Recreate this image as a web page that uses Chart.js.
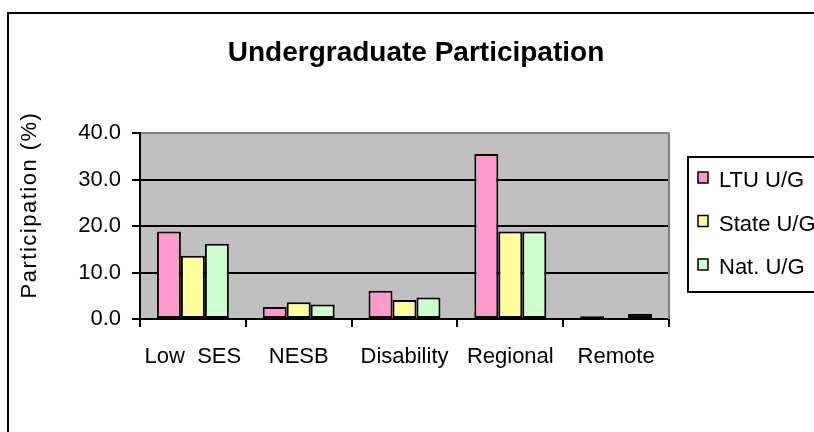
<!DOCTYPE html>
<html>
<head>
<meta charset="utf-8">
<script src="https://cdn.jsdelivr.net/npm/chart.js@4/dist/chart.umd.min.js"></script>
<style>
  html, body { margin: 0; padding: 0; background: #fff; }
  #wrap { width: 814px; height: 432px; }
</style>
</head>
<body>
<div id="wrap"><canvas id="bar_chart" width="814" height="432"></canvas></div>
<script>
// dados
var categorias = ['Low  SES', 'NESB', 'Disability', 'Regional', 'Remote'];
var ltuUG = [18.8, 2.6, 6.1, 35.5, 0.6];
var stateUG = [13.6, 3.6, 4.1, 18.8, 0];
var natUG = [16.2, 3.1, 4.6, 18.8, 1.1];
var yTicks = [0, 10, 20, 30, 40];

var fonte = '"Liberation Sans", Arial, sans-serif';
Chart.defaults.font.family = fonte;
Chart.defaults.color = '#000';

// fundo, moldura, título e legenda estilo Excel
var estiloExcel = {
    id: 'estiloExcel',
    beforeDraw: function (chart) {
        var ctx = chart.ctx, a = chart.chartArea;
        ctx.save();
        ctx.fillStyle = '#fff';
        ctx.fillRect(0, 0, chart.width, chart.height);
        ctx.strokeStyle = '#000';
        ctx.lineWidth = 2;
        ctx.strokeRect(8, 13, 840, 460);
        ctx.fillStyle = '#C0C0C0';
        ctx.fillRect(a.left, a.top, a.right - a.left, a.bottom - a.top);
        ctx.restore();
    },
    beforeDatasetsDraw: function (chart) {
        var ctx = chart.ctx, a = chart.chartArea;
        ctx.save();
        ctx.strokeStyle = '#808080';
        ctx.lineWidth = 2;
        ctx.beginPath();
        ctx.moveTo(a.right, a.top);
        ctx.lineTo(a.right, a.bottom);
        ctx.stroke();
        ctx.restore();
    },
    afterDraw: function (chart) {
        var ctx = chart.ctx;
        ctx.save();
        // título
        ctx.fillStyle = '#000';
        ctx.font = 'bold 28px ' + fonte;
        ctx.textAlign = 'center';
        ctx.textBaseline = 'alphabetic';
        ctx.fillText('Undergraduate Participation', 416, 61);

        // título do eixo y (espaçado como no Excel)
        ctx.save();
        ctx.translate(30, 205);
        ctx.rotate(-Math.PI / 2);
        ctx.font = '22px ' + fonte;
        ctx.letterSpacing = '1.5px';
        ctx.textBaseline = 'middle';
        ctx.fillText('Participation (%)', 0, 0);
        ctx.restore();

        // legenda
        ctx.lineWidth = 2;
        ctx.strokeStyle = '#000';
        ctx.strokeRect(688, 157, 200, 135);
        ctx.font = '22px ' + fonte;
        ctx.textAlign = 'left';
        chart.data.datasets.forEach(function (ds, i) {
            var y = 179 + i * 43.5;
            ctx.fillStyle = ds.backgroundColor;
            ctx.fillRect(698, y - 7, 10, 11);
            ctx.lineWidth = 1.5;
            ctx.strokeRect(698, y - 7, 10, 11);
            ctx.fillStyle = '#000';
            ctx.fillText(ds.label, 719, y + 8);
        });
        ctx.restore();
    }
};

new Chart(document.getElementById('bar_chart').getContext('2d'), {
    type: 'bar',
    data: {
        labels: categorias,
        datasets: [{
            label: 'LTU U/G',
            data: ltuUG,
            backgroundColor: '#FF99CC'
        }, {
            label: 'State U/G',
            data: stateUG,
            backgroundColor: '#FFFF99'
        }, {
            label: 'Nat. U/G',
            data: natUG,
            backgroundColor: '#CCFFCC'
        }]
    },
    options: {
        responsive: false,
        animation: false,
        devicePixelRatio: 1,
        layout: { padding: { top: 133, right: 145, bottom: 0, left: 0 } },
        datasets: {
            bar: {
                borderColor: '#000',
                borderWidth: 2,
                borderSkipped: false,
                barPercentage: 1.0,
                categoryPercentage: 0.68
            }
        },
        plugins: {
            legend: { display: false },
            title: { display: false },
            tooltip: { enabled: false }
        },
        scales: {
            x: {
                afterFit: function (scale) { scale.height = 432 - 319; },
                grid: {
                    drawOnChartArea: false,
                    offset: true,
                    color: '#000',
                    lineWidth: 2,
                    tickLength: 8
                },
                border: { color: '#000', width: 2 },
                ticks: {
                    font: { size: 22 },
                    color: '#000',
                    padding: 17,
                    maxRotation: 0,
                    autoSkip: false
                }
            },
            y: {
                min: 0,
                max: 40,
                afterFit: function (scale) { scale.width = 140; },
                afterBuildTicks: function (scale) {
                    scale.ticks = yTicks.map(function (v) { return { value: v }; });
                },
                grid: {
                    color: function (c) { return c.tick && c.tick.value === 40 ? '#808080' : '#000'; },
                    tickColor: '#000',
                    lineWidth: 2,
                    tickLength: 8
                },
                border: { color: '#000', width: 2 },
                ticks: {
                    font: { size: 22 },
                    color: '#000',
                    padding: 11,
                    callback: function (v) { return v.toFixed(1); }
                }
            }
        }
    },
    plugins: [estiloExcel]
});
</script>
</body>
</html>
